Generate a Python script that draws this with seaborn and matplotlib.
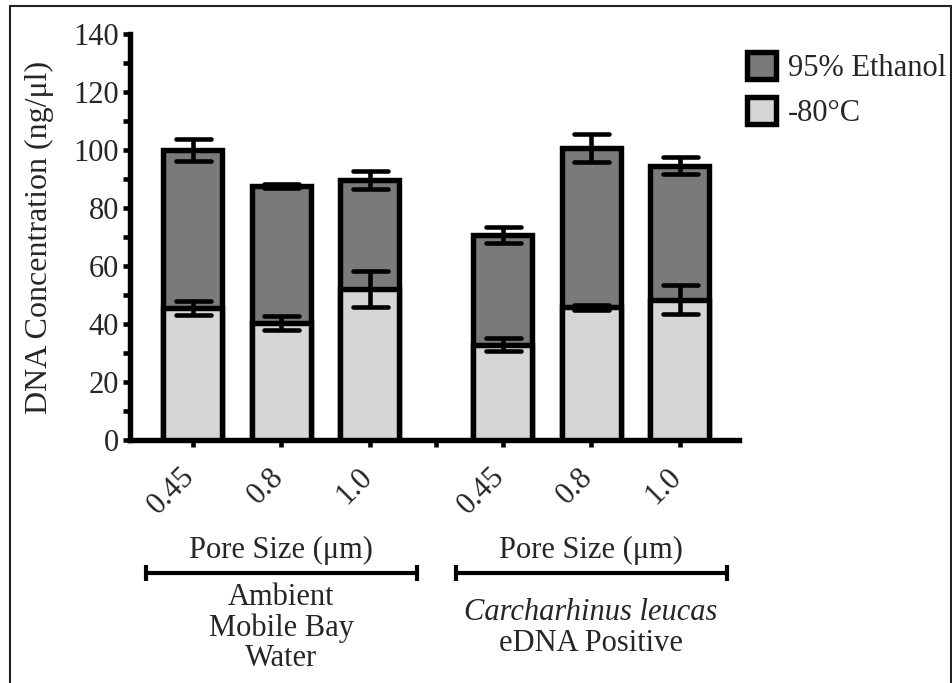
import matplotlib
matplotlib.use("Agg")
import matplotlib.pyplot as plt
import matplotlib.transforms as mtransforms
from matplotlib.patches import Patch
from matplotlib.lines import Line2D
from matplotlib.markers import MarkerStyle
from matplotlib.ticker import MultipleLocator, FixedLocator
import seaborn as sns
import pandas as pd

# Pore sizes for each filter, grouped by water source
pore_labels = ["0.45", "0.8", "1.0", "0.45", "0.8", "1.0"]
bar_positions = [0, 1, 2, 3.5, 4.5, 5.5]
group_centers = [1, 4.5]
group_names = ["Ambient\nMobile Bay\nWater", "eDNA Positive"]
species_name = "Carcharhinus leucas"

# Mean DNA yield (ng/µl) and standard error per preservation method
ethanol_mean = [99.9, 87.6, 89.6, 70.8, 100.8, 94.6]
ethanol_sem = [3.8, 0.7, 3.2, 2.8, 4.8, 2.9]
freezer_mean = [45.6, 40.4, 52.0, 32.9, 45.8, 48.4]
freezer_sem = [2.5, 2.4, 6.3, 2.2, 0.9, 5.0]

series_labels = ["95% Ethanol", "-80°C"]
dark_gray = "#7a7a7a"
light_gray = "#d6d6d6"

df = pd.DataFrame({
    "position": bar_positions,
    "ethanol": ethanol_mean,
    "freezer": freezer_mean,
})

sns.set_theme(style="ticks")
plt.rcParams["font.family"] = ["Liberation Serif", "DejaVu Serif"]
plt.rcParams["axes.unicode_minus"] = False

fig = plt.figure(figsize=(9.53, 6.83), dpi=100)
ax = fig.add_axes([130 / 953, 1 - 440 / 683, (739 - 130) / 953, (440 - 34) / 683])

edge_lw = 3.9
err_lw = 3.3


def draw_errors(means, sems, z):
    _, caps, _ = ax.errorbar(bar_positions, means, yerr=sems, fmt="none",
                             ecolor="black", elinewidth=err_lw, capsize=12.6,
                             capthick=err_lw, zorder=z)
    for cap in caps:
        cap.set_marker(MarkerStyle("_", capstyle="round"))


# Ethanol bars sit behind, the -80°C bars are drawn in front of them
sns.barplot(data=df, x="position", y="ethanol", native_scale=True, width=0.667,
            color=dark_gray, saturation=1, edgecolor="black", linewidth=edge_lw,
            errorbar=None, ax=ax, zorder=2)
draw_errors(ethanol_mean, ethanol_sem, 3)
sns.barplot(data=df, x="position", y="freezer", native_scale=True, width=0.667,
            color=light_gray, saturation=1, edgecolor="black", linewidth=edge_lw,
            errorbar=None, ax=ax, zorder=4)
draw_errors(freezer_mean, freezer_sem, 5)

ax.set_xlim(-0.71, 6.17)
ax.set_ylim(0, 140)
ax.set_xlabel("")
ax.set_ylabel("DNA Concentration (ng/μl)", fontsize=23, labelpad=14)

for side in ("top", "right"):
    ax.spines[side].set_visible(False)
for side in ("left", "bottom"):
    ax.spines[side].set_linewidth(edge_lw)
    ax.spines[side].set_color("black")
    ax.spines[side].set_capstyle("projecting")

ax.xaxis.set_major_locator(FixedLocator(bar_positions))
ax.xaxis.set_minor_locator(FixedLocator([2.75]))
ax.set_xticklabels(pore_labels, rotation=45, ha="right", va="top", fontsize=22)
ax.yaxis.set_major_locator(MultipleLocator(20))
ax.yaxis.set_minor_locator(MultipleLocator(10))
ax.tick_params(axis="both", which="both", length=5, width=err_lw, color="black",
               direction="out")
ax.tick_params(axis="y", which="major", labelsize=22, pad=3)
ax.tick_params(axis="x", which="major", pad=11)

# Nudge the slanted pore-size labels so they sit under their ticks
shift = mtransforms.ScaledTranslation(8 / 100, 0, fig.dpi_scale_trans)
for lbl in ax.get_xticklabels():
    lbl.set_transform(lbl.get_transform() + shift)

# Group brackets and captions beneath the tick labels
xt = ax.get_xaxis_transform()
half = 1.53
for c in group_centers:
    ax.text(c, -0.271, "Pore Size (μm)", transform=xt, ha="center", va="center",
            fontsize=22, clip_on=False)
    ax.plot([c - half, c + half], [-0.328, -0.328], transform=xt, color="black",
            lw=3.0, clip_on=False, solid_capstyle="butt")
    for e in (c - half, c + half):
        ax.plot([e, e], [-0.308, -0.348], transform=xt, color="black",
                lw=3.0, clip_on=False, solid_capstyle="butt")

ax.text(group_centers[0], -0.352, group_names[0], transform=xt, ha="center",
        va="top", fontsize=22, linespacing=1.06, clip_on=False)
ax.text(group_centers[1], -0.426, species_name, transform=xt, ha="center",
        va="center", fontsize=22, style="italic", clip_on=False)
ax.text(group_centers[1], -0.502, group_names[1], transform=xt, ha="center",
        va="center", fontsize=22, clip_on=False)

handles = [Patch(facecolor=dark_gray, edgecolor="black", linewidth=edge_lw),
           Patch(facecolor=light_gray, edgecolor="black", linewidth=edge_lw)]
fig.legend(handles, series_labels, loc="upper left",
           bbox_to_anchor=(747 / 953, 1 - 52 / 683), frameon=False, fontsize=22,
           handlelength=0.95, handleheight=1.0, handletextpad=0.4,
           labelspacing=0.45, borderpad=0, borderaxespad=0)

# Thin frame around the figure, open at the bottom
for xs, ys in (([10 / 953, 10 / 953], [0, 1 - 6 / 683]),
               ([10 / 953, 951 / 953], [1 - 6 / 683, 1 - 6 / 683]),
               ([951 / 953, 951 / 953], [1 - 6 / 683, 0])):
    fig.add_artist(Line2D(xs, ys, transform=fig.transFigure, color="#222222", lw=1.5))

fig.savefig("out.png", dpi=100)
